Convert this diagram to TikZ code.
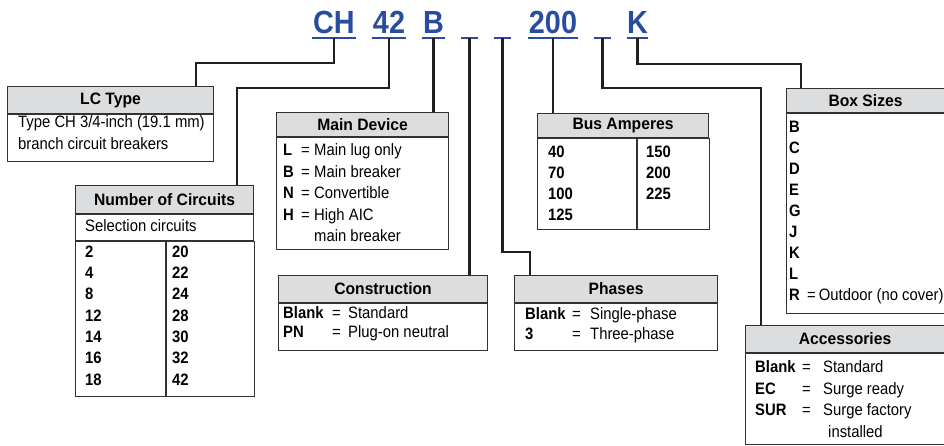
\documentclass[tikz,border=0pt]{standalone}
\usepackage{fontspec}
\setmainfont{Liberation Sans}[FakeStretch=0.9]
\newfontfamily\headfont{Liberation Sans}[FakeStretch=0.95]
\newfontfamily\codefont{Liberation Sans}[FakeStretch=0.9]
\usetikzlibrary{positioning}
\definecolor{codeblue}{RGB}{40,76,160}
\definecolor{headgray}{RGB}{220,221,223}
\definecolor{boxline}{RGB}{50,50,50}
\definecolor{linkblack}{RGB}{35,31,32}
\newcommand{\bodyfont}{\fontsize{16.5}{21.3}\selectfont}
\newcommand{\keyeq}[3]{\makebox[#1][l]{\textbf{#3}}\makebox[#2][l]{=}}
\begin{document}
\begin{tikzpicture}[x=1pt, y=-1pt,
    code/.style={text=codeblue, font={\codefont\bfseries\fontsize{32}{32}\selectfont},
        inner sep=0pt, text height=23pt, text depth=5pt, anchor=base},
    uline/.style={draw=codeblue, line width=2pt},
    link/.style={draw=linkblack, line width=2.4pt},
    head/.style={draw=boxline, line width=1.1pt, fill=headgray, anchor=north west,
        inner sep=0pt, font={\headfont\bfseries\fontsize{16.5}{20}\selectfont}},
    body/.style={draw=boxline, line width=1.1pt, anchor=north west, inner sep=0pt},
    txt/.style={anchor=north west, inner sep=0pt, align=left, font=\bodyfont}]
    \useasboundingbox (0,0) rectangle (944,445);
    % Catalog number
    \node[code, minimum width=44pt] (cCH)  at (334,33)   {CH};
    \node[code, minimum width=34pt] (c42)  at (389,33)   {42};
    \node[code, minimum width=23pt] (cB)   at (433.5,33) {B};
    \node[code, minimum width=17pt] (cbA)  at (469.5,33) {};
    \node[code, minimum width=17pt] (cbB)  at (502.5,33) {};
    \node[code, minimum width=50pt] (c200) at (553,33)   {200};
    \node[code, minimum width=17pt] (cbC)  at (602.5,33) {};
    \node[code, minimum width=21pt] (cK)   at (637.5,33) {K};
    \foreach \n in {cCH,c42,cB,cbA,cbB,c200,cbC,cK}
        \draw[uline] (\n.south west) -- (\n.south east);
    % LC Type
    \node[head, minimum width=206pt, minimum height=27pt] (lchead) at (7,86) {LC Type};
    \node[body, minimum width=206pt, minimum height=47pt] (lcbody) at (lchead.south west) {};
    \node[txt, font={\fontsize{16.5}{22}\selectfont}] (lctext) at (18,115.5)
        {Type CH 3/4-inch (19.1 mm)\\branch circuit breakers};
    % Number of Circuits
    \node[head, minimum width=178pt, minimum height=28pt] (nchead) at (75,185) {Number of Circuits};
    \node[body, minimum width=178pt, minimum height=26pt] (ncsub) at (nchead.south west) {};
    \node[body, minimum width=90pt, minimum height=155pt] (ncleft) at (ncsub.south west) {};
    \node[body, minimum width=88pt, minimum height=155pt] (ncright) at (ncleft.north east) {};
    \node[txt] (nctext) at (85,219.5) {Selection circuits};
    \node[txt, font={\fontsize{16.5}{21.33}\selectfont\bfseries}] (ncltext) at (85,245.5)
        {2\\4\\8\\12\\14\\16\\18};
    \node[txt, font={\fontsize{16.5}{21.33}\selectfont\bfseries}] (ncrtext) at (172,245.5)
        {20\\22\\24\\28\\30\\32\\42};
    % Main Device
    \node[head, minimum width=172pt, minimum height=24pt] (mdhead) at (276,112) {Main Device};
    \node[body, minimum width=172pt, minimum height=112pt] (mdbody) at (mdhead.south west) {};
    \node[txt, font={\fontsize{16.5}{21.5}\selectfont}] (mdtext) at (283,143.5)
        {\keyeq{18pt}{13pt}{L}Main lug only\\
         \keyeq{18pt}{13pt}{B}Main breaker\\
         \keyeq{18pt}{13pt}{N}Convertible\\
         \keyeq{18pt}{13pt}{H}High AIC\\
         \hspace*{31pt}main breaker};
    % Construction
    \node[head, minimum width=209pt, minimum height=27pt] (cohead) at (278,275) {Construction};
    \node[body, minimum width=209pt, minimum height=47pt] (cobody) at (cohead.south west) {};
    \node[txt, font={\fontsize{16.5}{19}\selectfont}] (cotext) at (283,306.5)
        {\keyeq{49pt}{16pt}{Blank}Standard\\
         \keyeq{49pt}{16pt}{PN}Plug-on neutral};
    % Phases
    \node[head, minimum width=203pt, minimum height=27pt] (phhead) at (514,275) {Phases};
    \node[body, minimum width=203pt, minimum height=47pt] (phbody) at (phhead.south west) {};
    \node[txt, font={\fontsize{16.5}{19.5}\selectfont}] (phtext) at (525,307.5)
        {\keyeq{47pt}{18pt}{Blank}Single-phase\\
         \keyeq{47pt}{18pt}{3}Three-phase};
    % Bus Amperes
    \node[head, minimum width=171pt, minimum height=24pt] (bahead) at (537,113) {Bus Amperes};
    \node[body, minimum width=99pt, minimum height=91pt] (baleft) at (bahead.south west) {};
    \node[body, minimum width=72pt, minimum height=91pt] (baright) at (baleft.north east) {};
    \node[txt, font={\fontsize{16.5}{21}\selectfont\bfseries}] (baltext) at (548,145.5)
        {40\\70\\100\\125};
    \node[txt, font={\fontsize{16.5}{21}\selectfont\bfseries}] (barterxt) at (646,145.5)
        {150\\200\\225};
    % Box Sizes
    \node[head, minimum width=158pt, minimum height=24pt] (bshead) at (786,88) {Box Sizes};
    \node[body, minimum width=158pt, minimum height=200pt] (bsbody) at (bshead.south west) {};
    \node[txt, font={\fontsize{16.5}{21.1}\selectfont}] (bstext) at (789,120.5)
        {\textbf{B}\\\textbf{C}\\\textbf{D}\\\textbf{E}\\\textbf{G}\\\textbf{J}\\\textbf{K}\\\textbf{L}\\
         \makebox[18pt][l]{\textbf{R}}=\hspace{3pt}Outdoor (no cover)};
    % Accessories
    \node[head, minimum width=199pt, minimum height=27pt] (achead) at (745,325) {Accessories};
    \node[body, minimum width=199pt, minimum height=91pt] (acbody) at (achead.south west) {};
    \node[txt, font={\fontsize{16.5}{21.5}\selectfont}] (actext) at (755,360.5)
        {\keyeq{47pt}{21pt}{Blank}Standard\\
         \keyeq{47pt}{21pt}{EC}Surge ready\\
         \keyeq{47pt}{21pt}{SUR}Surge factory\\
         \hspace*{73pt}installed};
    % Connectors
    \draw[link] (cCH.south) -- ++(0,25) -| ([xshift=189pt]lchead.north west);
    \draw[link] (c42.south) -- ++(0,50) -| ([xshift=162pt]nchead.north west);
    \draw[link] (cB.south) -- (cB.south |- mdhead.north);
    \draw[link] (cbA.south) -- (cbA.south |- cohead.north);
    \draw[link] (cbB.south) -- ++(0,214) -| ([xshift=16pt]phhead.north west);
    \draw[link] (c200.south) -- (c200.south |- bahead.north);
    \draw[link] (cbC.south) -- ++(0,50) -| ([xshift=16pt]achead.north west);
    \draw[link] (cK.south) -- ++(0,26) -| ([xshift=15pt]bshead.north west);
\end{tikzpicture}
\end{document}
